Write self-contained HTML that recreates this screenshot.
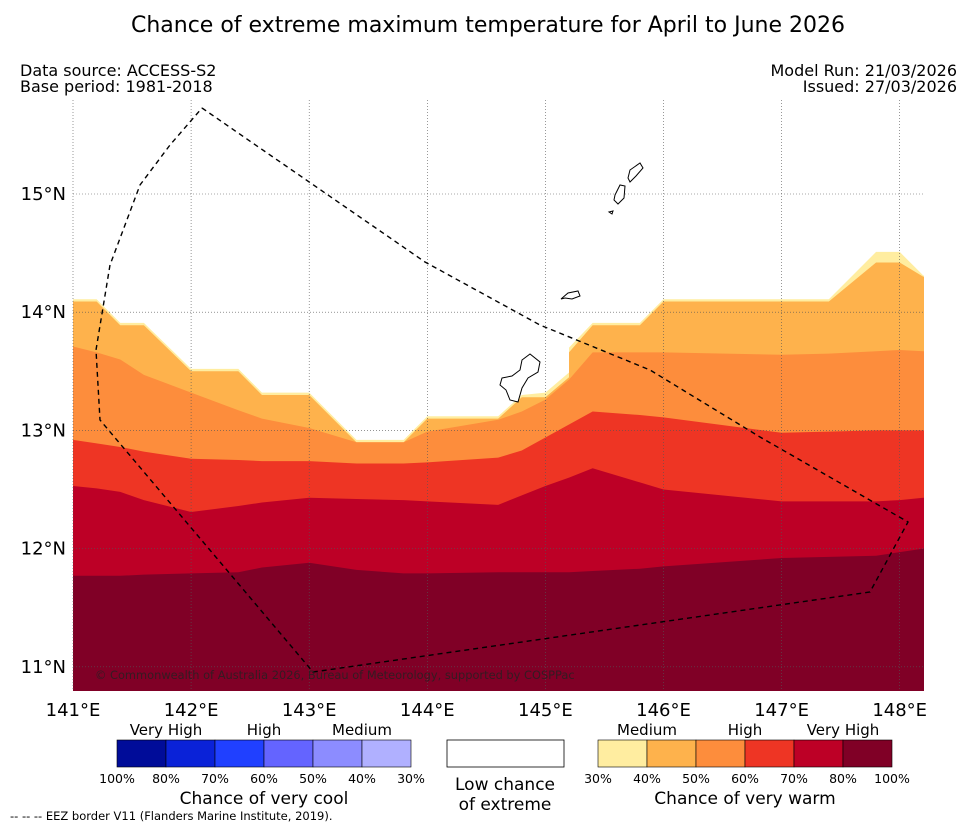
<!DOCTYPE html>
<html><head><meta charset="utf-8"><style>
body{margin:0;background:#fff;font-family:"DejaVu Sans",sans-serif}
svg{display:block}
</style></head><body>
<svg id="c" width="977" height="827" xmlns="http://www.w3.org/2000/svg" font-family="DejaVu Sans, sans-serif">
<text x="488" y="32" text-anchor="middle" font-size="22">Chance of extreme maximum temperature for April to June 2026</text>
<text x="20" y="76" font-size="16">Data source: ACCESS-S2</text>
<text x="20" y="92" font-size="16">Base period: 1981-2018</text>
<text x="957" y="76" font-size="16" text-anchor="end">Model Run: 21/03/2026</text>
<text x="957" y="92" font-size="16" text-anchor="end">Issued: 27/03/2026</text>
<defs><clipPath id="mc"><rect x="73" y="100" width="851" height="591"/></clipPath></defs>
<g id="bands" clip-path="url(#mc)"></g>
<g id="grid"></g>
<g id="islands" fill="#fff" stroke="#000" stroke-width="1">
<path d="M502,378 L512,376 L520,370 L522,360 L530,354 L540,362 L538,372 L528,378 L522,388 L518,402 L510,400 L506,390 L500,385 Z"/>
<path d="M561,299 L568,293 L578,291 L580,296 L572,299 L565,298 Z"/>
<path d="M628,178 L630,170 L640,163 L643,168 L636,176 L630,182 Z"/>
<path d="M615,195 L620,185 L625,186 L624,198 L618,204 L614,200 Z"/>
<path d="M609,212 L613,211 L612,214 Z"/>
</g>
<path d="M202,108 L425,262 L540,325 L650,370 L760,437 L908,522 L870,592 L313,672 L100,420 L96,350 L110,265 L140,185 L170,145 L202,108" fill="none" stroke="#000" stroke-width="1.4" stroke-dasharray="5,4"/>
<text x="95" y="679" font-size="11.4" fill="#222" opacity="0.8">© Commonwealth of Australia 2026, Bureau of Meteorology, supported by COSPPac</text>
<g id="axes" font-size="18"></g>
<g id="legend"></g>
<text x="10" y="820" font-size="11.5">--  --  -- EEZ border V11 (Flanders Marine Institute, 2019).</text>
</svg>
<script>
const lons=[141,141.2,141.4,141.6,142,142.4,142.6,143,143.4,143.8,144,144.6,144.8,145,145.2,145.2,145.4,145.8,146,147,147.4,147.8,148,148.2];
const b30=[14.11,14.11,13.91,13.91,13.52,13.52,13.32,13.32,12.92,12.92,13.12,13.12,13.30,13.32,13.49,13.70,13.91,13.91,14.11,14.11,14.11,14.51,14.51,14.31];
const b40=[14.09,14.09,13.89,13.89,13.50,13.50,13.30,13.30,12.90,12.90,13.10,13.10,13.28,13.28,13.45,13.66,13.89,13.89,14.09,14.09,14.09,14.42,14.42,14.30];
const b50=[13.71,13.66,13.60,13.47,13.32,13.17,13.10,13.02,12.90,12.90,12.99,13.09,13.16,13.26,13.43,13.43,13.66,13.66,13.66,13.64,13.65,13.67,13.68,13.67];
const b60=[12.92,12.89,12.86,12.82,12.76,12.75,12.74,12.74,12.72,12.72,12.73,12.77,12.83,12.94,13.05,13.05,13.16,13.13,13.11,12.98,12.99,13.00,13.00,13.00];
const b70=[12.53,12.51,12.48,12.41,12.31,12.36,12.39,12.43,12.42,12.41,12.40,12.37,12.45,12.53,12.60,12.60,12.68,12.56,12.50,12.40,12.40,12.40,12.41,12.43];
const b80=[11.77,11.77,11.77,11.78,11.79,11.80,11.84,11.88,11.82,11.79,11.79,11.80,11.80,11.80,11.80,11.80,11.81,11.83,11.85,11.92,11.93,11.94,11.97,12.00];
const bounds=[b30,b40,b50,b60,b70,b80];
const warmColors=["#ffeda0","#feb24c","#fd8d3c","#ee3524","#bd0026","#800026"];
const coolColors=["#000c99","#0a22d8","#2040ff","#6464ff","#8c8cff","#b0b0ff"];
const lonTicks=[141,142,143,144,145,146,147,148];
const latTicks=[11,12,13,14,15];
const pctLabels=["30%","40%","50%","60%","70%","80%","100%"];
const X=lon=>73+(lon-141)*118.1;
const Y=lat=>194+(15-lat)*118.2;
const NS="http://www.w3.org/2000/svg";
function mk(tag,attrs,parent){const e=document.createElementNS(NS,tag);for(const k in attrs)e.setAttribute(k,attrs[k]);parent.appendChild(e);return e;}
const bands=document.getElementById('bands');
bounds.forEach((b,i)=>{
  let d="M"+lons.map((l,j)=>X(l)+","+Y(b[j])).join(" L")+" L"+X(148.3)+","+Y(b[b.length-1])+" L"+X(148.3)+",700 L"+X(140.9)+",700 Z";
  const p=mk('path',{d:d,fill:warmColors[i]},bands);
  
  
});
const grid=document.getElementById('grid'),axes=document.getElementById('axes');
lonTicks.forEach(l=>{
  const g=mk('line',{x1:X(l),x2:X(l),y1:100,y2:691,stroke:"#555","stroke-width":0.6,"stroke-dasharray":"1,2"},grid);
  
  
  const t=mk('text',{x:X(l),y:716,"text-anchor":"middle"},axes);t.textContent=l+"°E";
  
  
});
latTicks.forEach(l=>{
  const g=mk('line',{x1:73,x2:924,y1:Y(l),y2:Y(l),stroke:"#555","stroke-width":0.6,"stroke-dasharray":"1,2"},grid);
  
  
  const t=mk('text',{x:66,y:Y(l)+6,"text-anchor":"end"},axes);t.textContent=l+"°N";
  
  
});
const lg=document.getElementById('legend');
function txt(x,y,s,size,anchor,name){const t=mk('text',{x:x,y:y,"font-size":size,"text-anchor":anchor||"middle"},lg);t.textContent=s;return t;}
const cw=49;
coolColors.forEach((c,i)=>{const r=mk('rect',{x:117+i*cw,y:740,width:cw,height:27,fill:c,stroke:"#000","stroke-width":0.6},lg);
  
  });
warmColors.forEach((c,i)=>{const r=mk('rect',{x:598+i*cw,y:740,width:cw,height:27,fill:c,stroke:"#000","stroke-width":0.6},lg);
  
  });
const wb=mk('rect',{x:447,y:740,width:117,height:27,fill:"#fff",stroke:"#000","stroke-width":0.8},lg);


const coolLbl=["100%","80%","70%","60%","50%","40%","30%"];
coolLbl.forEach((s,i)=>txt(117+i*cw,783,s,12.5,"middle","cool-pct-label"));
pctLabels.forEach((s,i)=>txt(598+i*cw,783,s,12.5,"middle","warm-pct-label"));
txt(166,735,"Very High",15,"middle","cool-very-high");
txt(264,735,"High",15,"middle","cool-high");
txt(362,735,"Medium",15,"middle","cool-medium");
txt(647,735,"Medium",15,"middle","warm-medium");
txt(745,735,"High",15,"middle","warm-high");
txt(843,735,"Very High",15,"middle","warm-very-high");
txt(264,804,"Chance of very cool",17,"middle","cool-title");
txt(745,804,"Chance of very warm",17,"middle","warm-title");
txt(505,790,"Low chance",17,"middle","low-chance-label");
txt(505,810,"of extreme",17,"middle","low-chance-label-2");
</script>
</body></html>
